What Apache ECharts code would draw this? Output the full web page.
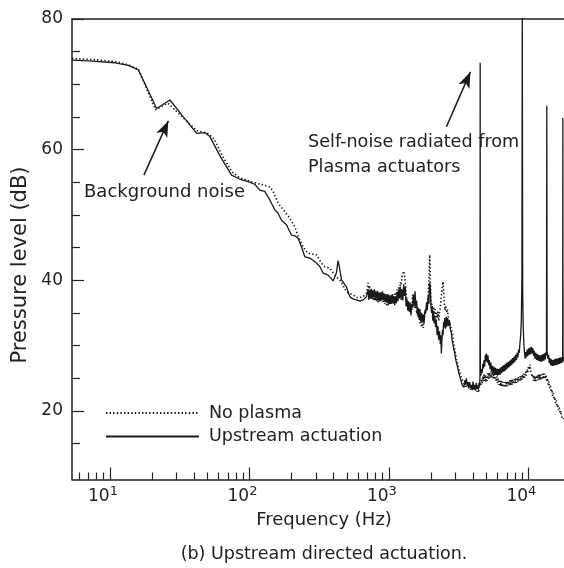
<!DOCTYPE html>
<html><head><meta charset="utf-8">
<script src="https://cdn.jsdelivr.net/npm/echarts@6/dist/echarts.min.js"></script>
<style>html,body{margin:0;padding:0;background:#fff}#c{width:564px;height:568px}</style>
</head><body><div id="c"></div>
<script>
const FONT = 'DejaVu Sans';

// ---- data: [frequency (Hz), pressure level (dB)] ----
const noPlasma = [[5.34,73.95],[7.5,73.8],[10.9,73.5],[13.5,73.0],[16.0,72.3],[21.2,66.1],[26,67.1],[33,65.0],[42,62.9],[50,62.5],[56,61.6],[64,59.0],[75,56.6],[85,55.7],[95.8,55.3],[112.5,54.85],[125,54.6],[139.9,54.3],[147.8,53.6],[160.6,51.8],[179.4,50.5],[194.6,49.5],[211.5,48.2],[223.5,46.7],[242.7,45.1],[263.6,44.1],[302.9,43.9],[328.2,42.6],[346.7,42.1],[376.7,41.85],[409,40.8],[444.6,40.05],[496,38.25],[553,37.75],[600,37.3],[653,37.5],[690,38.0],
[709,39.6],[718,38.4],[727,39.2],[737,37.8],[747,38.6],[757,37.2],[767,38.2],[777,36.9],[788,38.0],[798,36.8],[809,37.8],[820,36.7],[831,37.7],[842,36.6],[853,37.8],[865,36.7],[876,38.0],[888,36.8],[900,38.1],[912,36.7],[924,37.7],[937,36.4],[949,37.4],[962,36.2],[975,37.3],[988,36.1],[1001,37.3],[1015,36.2],[1029,37.5],[1043,36.4],[1057,37.8],[1071,36.6],[1085,37.9],[1100,36.8],[1115,38.2],[1130,37.2],[1145,38.6],[1161,37.6],[1176,39.1],[1192,38.2],[1208,39.7],[1225,39.3],[1241,40.6],[1258,40.4],[1275,41.4],[1292,41.6],[1310,39.8],[1327,38.0],[1345,36.4],[1364,36.8],[1382,35.3],[1401,36.6],[1420,35.1],[1439,36.2],[1459,35.4],[1478,37.8],[1498,36.2],[1519,37.4],[1539,35.6],[1560,36.4],[1581,34.9],[1603,35.6],[1625,34.2],[1647,34.8],[1669,33.4],[1692,34.0],[1715,32.8],[1738,33.4],[1762,32.7],[1786,33.9],[1810,34.6],[1835,35.4],[1860,36.0],[1885,36.8],[1911,37.6],[1930,39.2],[1945,41.5],[1959,43.9],[1975,41.0],[1995,37.5],[2014,35.8],[2035,36.4],[2062,35.0],[2085,36.0],[2110,34.8],[2135,35.8],[2160,34.4],[2187,35.2],[2215,34.2],[2245,35.2],[2275,33.8],[2305,35.0],[2335,35.8],[2360,37.0],[2385,38.0],[2410,38.9],[2444,39.8],[2470,38.2],[2495,36.4],[2525,35.4],[2555,36.0],[2590,35.0],[2625,35.6],[2660,34.4],[2700,34.6],[2740,33.4],[2780,33.4],[2820,32.2],[2860,31.8],[2900,30.6],[2940,30.0],[2980,28.9],[3020,28.4],[3060,27.6],[3100,27.3],[3150,26.6],[3200,26.4],[3250,25.6],[3300,25.5],[3350,24.8],[3400,25.0],[3450,24.2],[3500,24.4],[3545,23.7],[3590,24.3],[3640,23.6],[3690,24.0],[3740,23.4],[3794,24.1],[3850,23.2],[3900,23.8],[3955,23.1],[4010,23.9],[4065,23.2],[4120,23.7],[4180,23.0],[4236,23.6],[4285,22.9],[4330,23.5],[4380,22.8],
[4450,23.6],[4500,24.4],[4550,23.8],[4600,24.9],[4660,24.2],[4710,25.3],[4760,24.5],[4810,25.6],[4860,24.6],[4910,25.5],[4960,24.4],[5010,25.4],[5070,24.6],[5130,25.8],[5190,24.9],[5250,25.9],[5310,25.0],[5380,26.0],[5440,25.1],[5510,26.0],[5580,25.0],[5650,25.8],[5720,24.8],[5790,25.6],[5860,24.6],[5930,25.3],[6000,24.3],[6070,25.0],[6150,24.0],[6220,24.8],[6300,23.8],[6370,24.6],[6450,23.7],[6530,24.5],[6610,23.6],[6690,24.4],[6770,23.6],[6850,24.4],[6930,23.7],[7010,24.5],[7100,23.8],[7180,24.6],[7270,23.9],[7360,24.7],[7450,23.9],[7540,24.8],[7630,24.0],[7720,24.8],[7810,24.1],[7910,24.9],[8000,24.2],[8100,25.0],[8200,24.3],[8300,25.1],[8400,24.4],[8500,25.2],[8600,24.5],[8700,25.3],[8800,24.6],[8900,25.4],[9000,24.8],[9100,25.6],[9200,24.9],[9300,25.7],[9420,25.1],[9540,26.0],[9660,25.4],[9780,26.4],[9900,25.9],[10030,26.9],[10150,26.3],[10270,27.1],[10390,26.0],[10510,26.2],[10640,25.2],[10770,25.6],[10900,24.6],[11030,25.4],[11160,24.5],[11290,25.3],[11430,24.6],[11570,25.5],[11710,24.7],[11850,25.6],[12000,24.8],[12140,25.6],[12290,24.7],[12440,25.6],[12590,24.8],[12740,25.7],[12900,24.9],[13050,25.7],[13210,24.9],[13370,25.5],[13530,24.5],[13700,25.0],[13860,24.0],[14030,24.5],[14200,23.5],[14380,23.9],[14550,22.9],[14730,23.3],[14910,22.3],[15090,22.7],[15280,21.7],[15470,22.1],[15660,21.2],[15850,21.6],[16050,20.6],[16250,21.0],[16450,20.1],[16650,20.5],[16860,19.6],[17070,20.0],[17280,19.2],[17500,19.5],[17720,18.7],[18000,18.9]];

const upstream = [[5.34,73.7],[7.5,73.55],[10.9,73.3],[13.5,72.9],[16.0,72.2],[21.6,66.3],[26.9,67.6],[33,65.2],[41.8,62.5],[48,62.6],[52,62.0],[62,58.9],[74.4,56.1],[85,55.5],[97.9,55.1],[109,54.7],[118.7,53.8],[128.8,53.6],[139.9,52.3],[151.9,50.8],[160,50.3],[169.7,49.2],[184.3,48.5],[200.3,46.9],[212,46.8],[223.5,46.4],[236.2,45.1],[249.5,43.6],[271,43.4],[294.2,42.85],[319.4,42.1],[337.5,41.1],[366.6,40.8],[398,39.9],[420,41.1],[432,43.0],[440,42.2],[457,40.05],[496,39.0],[524,37.5],[555,37.1],[585,37.0],[620,36.8],[653,37.0],[690,37.5],
[709,38.6],[718,37.0],[727,38.4],[737,37.2],[747,38.7],[757,37.1],[767,38.5],[777,37.4],[788,38.6],[798,37.0],[809,38.3],[820,37.2],[831,38.4],[842,36.9],[853,38.1],[865,36.8],[876,38.2],[888,37.0],[900,38.3],[912,36.9],[924,38.0],[937,36.7],[949,37.9],[962,36.6],[975,37.9],[988,36.5],[1001,37.8],[1015,36.4],[1029,37.7],[1043,36.5],[1057,37.9],[1071,36.4],[1085,37.6],[1100,36.2],[1115,37.5],[1130,36.5],[1145,38.2],[1161,36.8],[1176,38.6],[1192,37.2],[1208,39.0],[1225,37.0],[1241,38.6],[1258,36.9],[1275,39.4],[1292,37.6],[1310,39.0],[1327,36.0],[1345,37.2],[1364,35.4],[1382,36.8],[1401,35.2],[1420,36.6],[1439,34.6],[1459,36.4],[1478,35.8],[1498,37.8],[1519,36.0],[1539,38.3],[1560,35.8],[1581,36.9],[1603,34.6],[1625,35.8],[1647,34.0],[1669,35.6],[1692,33.7],[1715,35.0],[1738,33.5],[1762,34.8],[1786,33.4],[1810,35.4],[1835,35.0],[1860,36.6],[1885,35.4],[1911,37.6],[1937,36.4],[1950,39.6],[1963,38.0],[1977,39.4],[2000,36.2],[2020,35.0],[2040,36.0],[2062,33.8],[2085,35.2],[2110,33.4],[2135,34.6],[2160,32.8],[2187,34.0],[2215,31.6],[2245,33.0],[2275,30.9],[2305,32.2],[2335,30.2],[2360,31.6],[2376,28.8],[2395,30.6],[2420,32.4],[2444,31.6],[2465,33.6],[2490,32.8],[2515,34.2],[2545,32.6],[2575,34.4],[2605,32.9],[2640,34.2],[2680,33.0],[2720,33.8],[2760,32.4],[2800,32.0],[2840,30.8],[2880,30.6],[2920,29.4],[2960,29.0],[3000,28.0],[3047,27.9],[3090,26.9],[3130,26.8],[3170,25.8],[3217,25.9],[3260,24.9],[3300,25.2],[3350,24.0],[3400,24.3],[3450,23.6],[3500,24.7],[3545,24.0],[3590,25.0],[3640,24.0],[3690,24.4],[3740,23.6],[3794,24.4],[3850,23.5],[3900,24.0],[3955,23.3],[4010,24.5],[4065,23.5],[4120,24.0],[4180,23.4],[4236,24.3],[4285,23.4],[4330,23.9],[4380,23.3],[4430,24.3],[4470,23.8],[4495,25.2],[4510,73.3],[4525,26.0],
[4560,25.4],[4610,26.4],[4660,25.8],[4710,27.2],[4760,26.5],[4810,27.8],[4860,26.8],[4910,28.6],[4960,27.6],[5010,28.8],[5070,27.4],[5130,28.5],[5190,27.0],[5250,27.8],[5310,26.4],[5380,27.4],[5440,26.0],[5510,26.9],[5580,25.8],[5650,26.8],[5720,25.6],[5790,26.6],[5860,25.5],[5930,26.5],[6000,25.4],[6070,26.4],[6150,25.5],[6220,26.5],[6300,25.6],[6370,26.7],[6450,25.8],[6530,26.9],[6610,26.0],[6690,27.0],[6770,26.1],[6850,27.2],[6930,26.3],[7010,27.4],[7100,26.5],[7180,27.5],[7270,26.7],[7360,27.7],[7450,26.9],[7540,27.9],[7630,27.1],[7720,28.1],[7810,27.3],[7910,28.3],[8000,27.5],[8100,28.6],[8200,27.8],[8300,28.9],[8400,28.2],[8500,29.4],[8600,28.9],[8700,30.4],[8800,31.5],[8900,34.0],[8980,40.0],[9040,82.0],[9100,38.0],[9180,33.0],[9270,30.4],[9370,29.0],[9480,28.0],[9580,29.0],[9690,28.2],[9800,29.4],[9910,28.4],[10030,29.6],[10150,28.6],[10270,29.7],[10390,28.7],[10510,29.8],[10640,28.8],[10770,29.6],[10900,28.4],[11030,29.2],[11160,28.0],[11290,28.9],[11430,27.8],[11570,28.7],[11710,27.7],[11850,28.6],[12000,27.6],[12140,28.5],[12290,27.5],[12440,28.6],[12590,27.6],[12740,28.7],[12900,27.7],[13050,28.8],[13210,27.9],[13370,29.0],[13480,28.5],[13550,66.7],[13620,29.2],[13780,28.0],[13950,28.6],[14110,27.3],[14280,28.1],[14460,27.0],[14630,27.9],[14810,26.9],[14990,27.8],[15170,26.9],[15350,27.9],[15540,27.0],[15730,28.0],[15920,27.0],[16110,28.0],[16310,27.1],[16510,28.1],[16710,27.2],[16910,28.2],[17120,27.3],[17330,28.2],[17500,27.4],[17610,28.2],[17660,64.9],[17710,27.7],[17850,28.3],[18000,27.6]];

const seriesNames = ['No plasma', 'Upstream actuation'];
const xMajorTicks = [10, 100, 1000, 10000];
const xMinorTicks = [6,7,8,9,20,30,40,50,60,70,80,90,200,300,400,500,600,700,800,900,2000,3000,4000,5000,6000,7000,8000,9000];
const yMajorTicks = [20, 40, 60, 80];
const yMinorTicks = [15,25,30,35,45,50,55,65,70,75];
const X_MIN = 5.34, X_MAX = 18000, Y_MIN = 9.5, Y_MAX = 80;
// annotation arrows in data coordinates [start, end]
const arrowBackground = [[17.5, 56.1], [26.2, 64.4]];
const arrowSelfNoise = [[2583, 63.5], [3838, 71.9]];

const INK = '#1a1a1a';
const AX = '#222';
const chart = echarts.init(document.getElementById('c'), null, {renderer: 'canvas'});

const baseX = {type: 'log', logBase: 10, min: X_MIN, max: X_MAX, gridIndex: 0,
  splitLine: {show: false}, minorTick: {show: false}, minorSplitLine: {show: false}};
const baseY = {type: 'value', min: Y_MIN, max: Y_MAX, gridIndex: 0,
  splitLine: {show: false}, minorTick: {show: false}, minorSplitLine: {show: false}};

chart.setOption({
  animation: false,
  backgroundColor: '#fff',
  color: [INK, INK],
  textStyle: {fontFamily: FONT},
  grid: {left: 72, top: 19, right: 0, bottom: 88.5, containLabel: false},
  xAxis: [
    Object.assign({}, baseX, {position: 'bottom',
      axisLine: {show: true, lineStyle: {color: AX, width: 1.5}},
      axisTick: {show: true, inside: true, length: 12, customValues: xMajorTicks, lineStyle: {color: AX, width: 1.2}},
      axisLabel: {show: true, customValues: xMajorTicks, margin: 6,
        formatter: v => '{b|10}{s|' + Math.round(Math.log10(v)) + '}',
        rich: {
          b: {fontFamily: FONT, fontSize: 17, color: AX, lineHeight: 22},
          s: {fontFamily: FONT, fontSize: 13, color: AX, verticalAlign: 'top', padding: [0, 14, 0, 0]}
        }}}),
    Object.assign({}, baseX, {position: 'bottom',
      axisLine: {show: false},
      axisTick: {show: true, inside: true, length: 7, customValues: xMinorTicks, lineStyle: {color: AX, width: 1.2}},
      axisLabel: {show: false}}),
    Object.assign({}, baseX, {position: 'top',
      axisLine: {show: true, lineStyle: {color: AX, width: 1.5}},
      axisTick: {show: false}, axisLabel: {show: false}})
  ],
  yAxis: [
    Object.assign({}, baseY, {position: 'left',
      axisLine: {show: true, lineStyle: {color: AX, width: 1.5}},
      axisTick: {show: true, inside: true, length: 12, customValues: yMajorTicks, lineStyle: {color: AX, width: 1.2}},
      axisLabel: {show: true, customValues: yMajorTicks, margin: 9, fontSize: 17, color: AX, fontFamily: FONT}}),
    Object.assign({}, baseY, {position: 'left',
      axisLine: {show: false},
      axisTick: {show: true, inside: true, length: 8, customValues: yMinorTicks, lineStyle: {color: AX, width: 1.2}},
      axisLabel: {show: false}})
  ],
  legend: {
    orient: 'vertical', left: 105, top: 403, padding: 0,
    itemWidth: 93, itemHeight: 14, itemGap: 3.4, selectedMode: false,
    data: seriesNames,
    itemStyle: {opacity: 0},
    textStyle: {fontFamily: FONT, fontSize: 17.5, color: AX, lineHeight: 20, padding: [0, 0, 0, 5]}
  },
  series: [
    {name: seriesNames[0], type: 'line', data: noPlasma, xAxisIndex: 0, yAxisIndex: 0,
     symbol: 'none', showSymbol: false, clip: true, silent: true,
     itemStyle: {color: INK},
     lineStyle: {color: INK, width: 1.6, type: [1.4, 2.2]}},
    {name: seriesNames[1], type: 'line', data: upstream, xAxisIndex: 0, yAxisIndex: 0,
     symbol: 'none', showSymbol: false, clip: true, silent: true,
     itemStyle: {color: INK},
     lineStyle: {color: INK, width: 1.3, type: 'solid'},
     markLine: {silent: true, symbol: ['none', 'arrow'], symbolSize: [9, 16], animation: false,
       label: {show: false}, emphasis: {disabled: true},
       lineStyle: {color: INK, width: 1.5, type: 'solid'},
       data: [
         [{coord: arrowBackground[0]}, {coord: arrowBackground[1]}],
         [{coord: arrowSelfNoise[0]}, {coord: arrowSelfNoise[1]}]
       ]}}
  ],
  graphic: [
    {type: 'text', x: 84, y: 192, style: {text: 'Background noise', fontFamily: FONT, fontSize: 18, fill: AX, textAlign: 'left', textVerticalAlign: 'middle'}},
    {type: 'text', x: 308, y: 142, style: {text: 'Self-noise radiated from', fontFamily: FONT, fontSize: 17.6, fill: AX, textAlign: 'left', textVerticalAlign: 'middle'}},
    {type: 'text', x: 308, y: 167, style: {text: 'Plasma actuators', fontFamily: FONT, fontSize: 17.6, fill: AX, textAlign: 'left', textVerticalAlign: 'middle'}},
    {type: 'text', x: 324, y: 520, style: {text: 'Frequency (Hz)', fontFamily: FONT, fontSize: 18, fill: AX, textAlign: 'center', textVerticalAlign: 'middle'}},
    {type: 'text', x: 21, y: 265, rotation: Math.PI / 2, style: {text: 'Pressure level (dB)', fontFamily: FONT, fontSize: 21, fill: AX, textAlign: 'center', textVerticalAlign: 'middle'}},
    {type: 'text', x: 324, y: 554, style: {text: '(b) Upstream directed actuation.', fontFamily: FONT, fontSize: 17.5, fill: AX, textAlign: 'center', textVerticalAlign: 'middle'}}
  ]
});
</script>
</body></html>
